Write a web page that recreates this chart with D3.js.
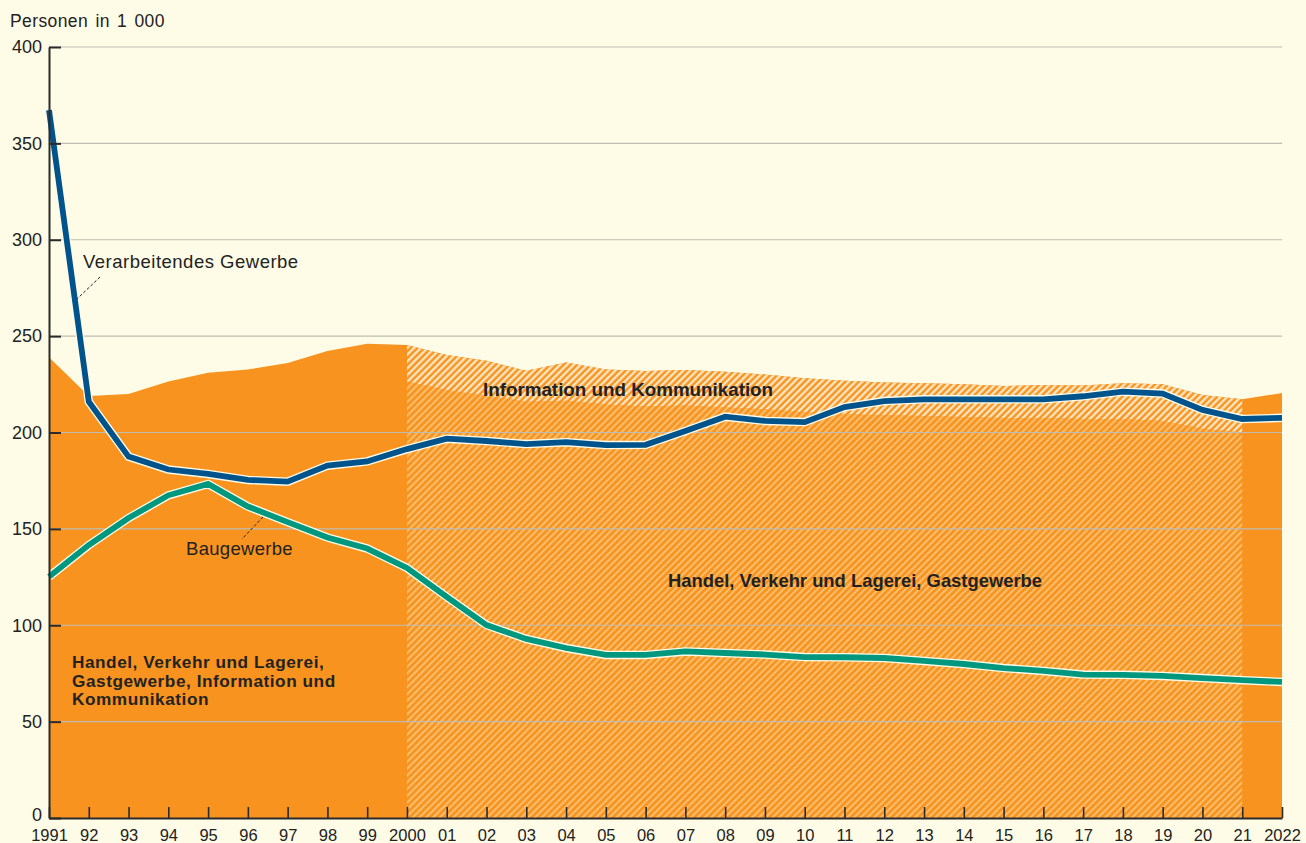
<!DOCTYPE html>
<html>
<head>
<meta charset="utf-8">
<script src="https://cdn.jsdelivr.net/npm/d3@7"></script>
<style>
  html, body { margin: 0; padding: 0; background: #fefce6; }
  svg { display: block; }
  text { font-family: "Liberation Sans", Arial, Helvetica, sans-serif; fill: #222; }
</style>
</head>
<body>
<svg id="chart" width="1306" height="843"></svg>
<script>
// ---------------- DATA ----------------
const years = d3.range(1991, 2023);

// Combined: Handel, Verkehr und Lagerei, Gastgewerbe + Information und Kommunikation (area top)
const combinedTotal = [239, 219, 220, 226.5, 231, 232.7, 236, 242.3, 246, 245.4,
  240.2, 237.2, 232, 236.3, 232.7, 231.9, 232.4, 231.5, 230.1, 228.1,
  226.9, 226, 225.5, 225, 224.1, 224.6, 224.4, 225.5, 225, 219.5, 217.2, 220.5];

// Years with separate breakdown (hatched)
const splitYears = d3.range(2000, 2022);
// Handel, Verkehr und Lagerei, Gastgewerbe alone
const handelOnly = [226.5, 222, 219, 216, 216.5, 214.5, 213.5, 214, 213, 212, 210.5,
  209.5, 209, 208.5, 208, 207.5, 207.5, 207, 207, 206, 202, 200];

// Verarbeitendes Gewerbe
const verarbeitendes = [367.3, 216, 187.5, 180.8, 178.5, 175.4, 174.5, 182.8, 185, 191.4,
  196.8, 195.6, 194, 195, 193.5, 193.6, 200.8, 208.2, 206, 205.4,
  213.2, 216.3, 217.2, 217.2, 217.2, 217.2, 218.8, 221.2, 220.2, 211.7, 207, 207.6];

// Baugewerbe
const baugewerbe = [125.2, 141.6, 155.6, 167.4, 173.3, 161.6, 153.5, 145.5, 139.8, 129.7,
  114.7, 100.1, 92.9, 88.2, 84.6, 84.6, 86.4, 85.6, 84.8, 83.5,
  83.4, 83, 81.5, 79.9, 77.8, 76.3, 74.4, 74.3, 73.7, 72.6, 71.5, 70.6];

const xTickLabels = ["1991","92","93","94","95","96","97","98","99","2000",
  "01","02","03","04","05","06","07","08","09","10","11","12","13","14","15",
  "16","17","18","19","20","21","2022"];
const yTicks = [0, 50, 100, 150, 200, 250, 300, 350, 400];

const yTitle = "Personen in 1 000";
const labelVerarb = "Verarbeitendes Gewerbe";
const labelBau = "Baugewerbe";
const labelInfo = "Information und Kommunikation";
const labelHandel = "Handel, Verkehr und Lagerei, Gastgewerbe";
const labelCombined = ["Handel, Verkehr und Lagerei,", "Gastgewerbe, Information und", "Kommunikation"];

// ---------------- CHART ----------------
const svg = d3.select("#chart");
const W = 1306, H = 843;
const m = { left: 49, right: 24, top: 47, bottom: 25 };

svg.append("rect").attr("width", W).attr("height", H).attr("fill", "#fefce6");

const x = d3.scaleLinear().domain([1991, 2022]).range([m.left, W - m.right]);
const y = d3.scaleLinear().domain([0, 400]).range([H - m.bottom, m.top]);

const ORANGE = "#f7931e";
const defs = svg.append("defs");

function stripe(id, base, light, period, lw) {
  const p = defs.append("pattern")
    .attr("id", id)
    .attr("patternUnits", "userSpaceOnUse")
    .attr("width", period).attr("height", period)
    .attr("patternTransform", "rotate(45)");
  p.append("rect").attr("width", period).attr("height", period).attr("fill", base);
  p.append("rect").attr("width", lw).attr("height", period).attr("fill", light);
}
stripe("hatchHandel", ORANGE, "#fcbd6c", 4.8, 2.1);
stripe("hatchInfo", ORANGE, "#fee6c2", 4.8, 2.4);

// solid combined area
const combinedData = years.map((yr, i) => ({ yr, v: combinedTotal[i] }));
svg.append("path")
  .datum(combinedData)
  .attr("fill", ORANGE)
  .attr("d", d3.area().x(d => x(d.yr)).y0(y(0)).y1(d => y(d.v)));

// hatched split areas
const splitData = splitYears.map((yr, i) => ({
  yr, h: handelOnly[i], t: combinedTotal[years.indexOf(yr)]
}));
svg.append("path")
  .datum(splitData)
  .attr("fill", "url(#hatchInfo)")
  .attr("d", d3.area().x(d => x(d.yr)).y0(d => y(d.h)).y1(d => y(d.t)));
svg.append("path")
  .datum(splitData)
  .attr("fill", "url(#hatchHandel)")
  .attr("d", d3.area().x(d => x(d.yr)).y0(y(0)).y1(d => y(d.h)));

// gridlines
svg.append("g")
  .selectAll("line")
  .data(yTicks.filter(t => t > 0))
  .join("line")
  .attr("x1", x(1991)).attr("x2", x(2022))
  .attr("y1", d => y(d)).attr("y2", d => y(d))
  .attr("stroke", "#bfbcb4").attr("stroke-width", 1.2);

// lines with halo
function drawLine(vals, color) {
  const data = years.map((yr, i) => ({ yr, v: vals[i] }));
  const line = d3.line().x(d => x(d.yr)).y(d => y(d.v));
  svg.append("path").datum(data).attr("d", line)
    .attr("fill", "none").attr("stroke", "#fffbe8").attr("stroke-width", 8.5)
    .attr("stroke-linejoin", "miter");
  svg.append("path").datum(data).attr("d", line)
    .attr("fill", "none").attr("stroke", color).attr("stroke-width", 5.8)
    .attr("stroke-linejoin", "miter");
}
drawLine(baugewerbe, "#00977f");
drawLine(verarbeitendes, "#00548b");

// axes
const yAxis = d3.axisLeft(y).tickValues(yTicks).tickSizeInner(-12).tickSizeOuter(0).tickPadding(7);
const gy = svg.append("g").attr("transform", `translate(${x(1991)},0)`).call(yAxis);
gy.select(".domain").attr("stroke", "#2b2b2b").attr("stroke-width", 2);
gy.selectAll(".tick line").attr("stroke", "#2b2b2b").attr("stroke-width", 2);
gy.selectAll(".tick text").attr("font-size", 18).attr("fill", "#222")
  .style("font-family", '"Liberation Sans", Arial, sans-serif')
  .attr("dy", d => d === 0 ? "0.12em" : "0.32em");

const xAxis = d3.axisBottom(x).tickValues(years).tickFormat((d, i) => xTickLabels[i])
  .tickSizeInner(-11).tickSizeOuter(0).tickPadding(11);
const gx = svg.append("g").attr("transform", `translate(0,${y(0)})`).call(xAxis);
gx.select(".domain").attr("stroke", "#2b2b2b").attr("stroke-width", 2);
gx.selectAll(".tick line").attr("stroke", "#2b2b2b").attr("stroke-width", 1.6);
gx.selectAll(".tick text").attr("font-size", 16.5).attr("fill", "#222")
  .style("font-family", '"Liberation Sans", Arial, sans-serif');

// title
svg.append("text").attr("x", 10).attr("y", 27).attr("font-size", 17.5)
  .attr("letter-spacing", 0.4).attr("word-spacing", 2).text(yTitle);

// annotations
svg.append("text").attr("x", 83).attr("y", 268).attr("font-size", 18.5)
  .attr("letter-spacing", 0.5).text(labelVerarb);
svg.append("line").attr("x1", 100).attr("y1", 277).attr("x2", 77).attr("y2", 299)
  .attr("stroke", "#222").attr("stroke-width", 1).attr("stroke-dasharray", "3,2");

svg.append("text").attr("x", 186).attr("y", 555).attr("font-size", 18.5)
  .attr("letter-spacing", 0.3).text(labelBau);
svg.append("line").attr("x1", 263).attr("y1", 517).attr("x2", 242).attr("y2", 539)
  .attr("stroke", "#222").attr("stroke-width", 1).attr("stroke-dasharray", "3,2");

svg.append("text").attr("x", 483).attr("y", 396).attr("font-size", 18.8)
  .attr("font-weight", "bold").text(labelInfo);
svg.append("text").attr("x", 668).attr("y", 587).attr("font-size", 18.4)
  .attr("font-weight", "bold").text(labelHandel);

labelCombined.forEach((s, i) => {
  svg.append("text").attr("x", 72).attr("y", 668 + i * 18.5)
    .attr("font-size", 17.2).attr("font-weight", "bold")
    .attr("letter-spacing", 0.55).text(s);
});
</script>
</body>
</html>
